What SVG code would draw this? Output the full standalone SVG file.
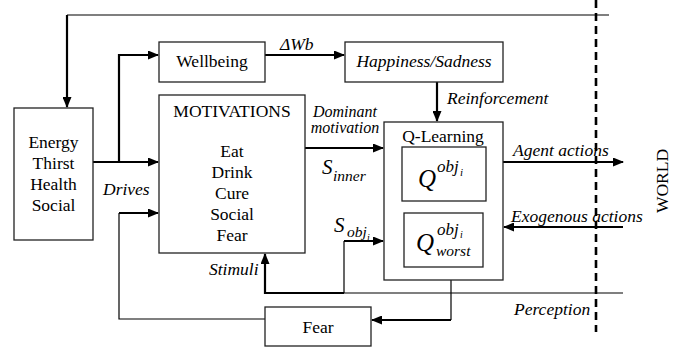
<svg xmlns="http://www.w3.org/2000/svg" width="678" height="348" viewBox="0 0 678 348">
<defs>
<marker id="ah" markerUnits="userSpaceOnUse" markerWidth="11" markerHeight="9" refX="10" refY="4.5" orient="auto">
<path d="M0,0 L11,4.5 L0,9 z" fill="#000"/>
</marker>
<style>
.box{fill:#fff;stroke:#222;stroke-width:1.3}
text{font-family:"Liberation Serif","Tinos","Times New Roman","DejaVu Serif",serif;font-size:17.5px;fill:#000}
.i{font-style:italic}
.m{text-anchor:middle}
.thick{fill:none;stroke:#000;stroke-width:2.2}
.thin{fill:none;stroke:#000;stroke-width:1.2}
</style>
</defs>
<rect width="678" height="348" fill="#fff"/>
<g id="connectors">
<path class="thin" d="M67,15 H609"/>
<path class="thick" d="M67,15 V107" marker-end="url(#ah)"/>
<path class="thick" d="M93,162 H158" marker-end="url(#ah)"/>
<path class="thick" d="M119,162 V55 H158" marker-end="url(#ah)"/>
<path class="thick" d="M265,55 H344" marker-end="url(#ah)"/>
<path class="thick" d="M437,82 V121" marker-end="url(#ah)"/>
<path class="thick" d="M305,148 H383" marker-end="url(#ah)"/>
<path class="thick" d="M503,162 H623" marker-end="url(#ah)"/>
<path class="thick" d="M623,227 H504" marker-end="url(#ah)"/>
<path class="thin" d="M344,293 H623"/>
<path class="thick" d="M344,293 H265 V254" marker-end="url(#ah)"/>
<path class="thin" d="M344,293 V241"/>
<path class="thick" d="M344,241 H383" marker-end="url(#ah)"/>
<path class="thin" d="M265,319 H119 V213"/>
<path class="thick" d="M119,213 H158" marker-end="url(#ah)"/>
<path class="thin" d="M451,267 V320"/>
<path class="thick" d="M451,320 H372" marker-end="url(#ah)"/>
<path fill="none" stroke="#000" stroke-width="2.6" stroke-dasharray="8,5" d="M596,0 V332"/>
</g>
<g id="energy">
<rect class="box" x="14" y="108" width="79" height="132"/>
<text class="m" x="53.5" y="148">Energy</text>
<text class="m" x="53.5" y="169">Thirst</text>
<text class="m" x="53.5" y="190">Health</text>
<text class="m" x="53.5" y="211">Social</text>
</g>
<g id="wellbeing">
<rect class="box" x="159" y="42" width="106" height="40"/>
<text class="m" x="212" y="67">Wellbeing</text>
</g>
<g id="happiness">
<rect class="box" x="345" y="42" width="158" height="40"/>
<text class="m i" x="424" y="67">Happiness/Sadness</text>
</g>
<g id="motivations">
<rect class="box" x="159" y="95" width="146" height="158"/>
<text class="m" x="232" y="117">MOTIVATIONS</text>
<text class="m" x="232" y="157">Eat</text>
<text class="m" x="232" y="178">Drink</text>
<text class="m" x="232" y="199">Cure</text>
<text class="m" x="232" y="220">Social</text>
<text class="m" x="232" y="241">Fear</text>
</g>
<g id="qlearning">
<rect class="box" x="384" y="122" width="119" height="158"/>
<text class="m" x="443" y="142">Q-Learning</text>
</g>
<g id="qobj">
<rect class="box" x="402" y="147" width="84" height="54"/>
<text class="i" x="418" y="187" style="font-size:25px">Q</text>
<text class="i" x="437" y="172" style="font-size:17px">obj</text>
<text class="i" x="460" y="176" style="font-size:11px">i</text>
</g>
<g id="qworst">
<rect class="box" x="404" y="213" width="79" height="54"/>
<text class="i" x="416" y="251" style="font-size:25px">Q</text>
<text class="i" x="437" y="235" style="font-size:17px">obj</text>
<text class="i" x="460" y="238" style="font-size:10px">i</text>
<text class="i" x="436" y="256" style="font-size:15.5px">worst</text>
</g>
<g id="fear">
<rect class="box" x="265" y="307" width="106" height="39"/>
<text class="m" x="318" y="333">Fear</text>
</g>
<g id="labels">
<text class="i" x="280" y="50">ΔWb</text>
<text class="i" x="447" y="104">Reinforcement</text>
<text class="i m" x="345" y="117" style="font-size:16px">Dominant</text>
<text class="i m" x="345" y="133" style="font-size:16px">motivation</text>
<text class="i" x="322" y="174" style="font-size:21px">S</text>
<text class="i" x="333" y="181" style="font-size:15.5px">inner</text>
<text class="i" x="334" y="232" style="font-size:21px">S</text>
<text class="i" x="347" y="237" style="font-size:15.5px">obj</text>
<text class="i" x="367" y="241" style="font-size:10px">i</text>
<text class="i" x="513" y="156">Agent actions</text>
<text class="i" x="511" y="222">Exogenous actions</text>
<text class="i" x="514" y="315">Perception</text>
<text class="i" x="209" y="275">Stimuli</text>
<text class="i" x="103" y="195">Drives</text>
<text class="m" x="668" y="181" transform="rotate(-90 668 181)">WORLD</text>
</g>
</svg>
